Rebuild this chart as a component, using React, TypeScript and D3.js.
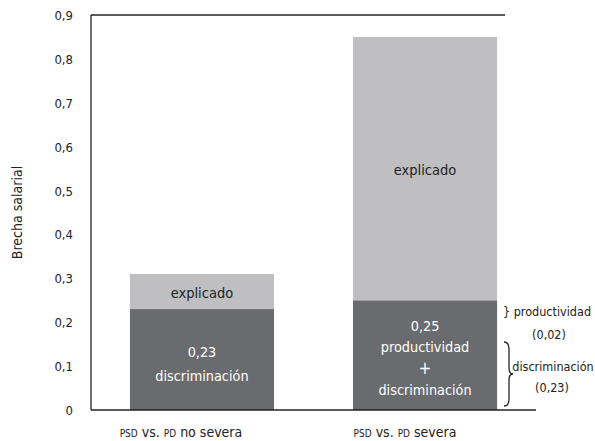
import React from "react";
import * as d3 from "d3";

const categories = ["no severa", "severa"];
const discriminacion = [0.23, 0.25];
const explicado = [0.08, 0.6];
const yTicks = [0, 0.1, 0.2, 0.3, 0.4, 0.5, 0.6, 0.7, 0.8, 0.9];
const innerLabels = [["0,23", "discriminación"], ["0,25", "productividad", "+", "discriminación"]];
const explLabel = "explicado";
const annProd = ["} productividad", "(0,02)"];
const annDisc = ["discriminación", "(0,23)"];

const FONT = "'DejaVu Sans Condensed', 'DejaVu Sans', sans-serif";
const DARK = "#6a6b6f";
const LIGHT = "#bfbfc1";

export default function App() {
  const W = 595, H = 441;
  const left = 91, top = 15, bottom = 410;
  const y = d3.scaleLinear().domain([0, 0.9]).range([bottom, top]);
  const x = d3.scaleBand().domain(categories).range([63, 564]).paddingInner(0.354).paddingOuter(0.3);
  const bw = x.bandwidth();
  const fmt = (v: number) => (v === 0 ? "0" : d3.format(".1f")(v).replace(".", ","));

  return (
    <svg width={W} height={H} style={{ position: "absolute", left: 0, top: 0, fontStretch: "condensed" }} fontFamily={FONT}>
      {categories.map((c, i) => {
        const x0 = x(c)!;
        const d = discriminacion[i];
        const e = explicado[i];
        const cx = x0 + bw / 2;
        const yExplMid = (y(d) + y(d + e)) / 2;
        const lines = innerLabels[i];
        const lh = i === 0 ? 24 : 21.5;
        const yDarkMid = (y(0) + y(d)) / 2 + (i === 0 ? 4 : 3);
        return (
          <g key={c}>
            <rect x={x0} y={y(d)} width={bw} height={y(0) - y(d)} fill={DARK} />
            <rect x={x0} y={y(d + e)} width={bw} height={y(d) - y(d + e)} fill={LIGHT} />
            <text x={cx} y={yExplMid + 6} textAnchor="middle" fontSize={14.5} fill="#222">{explLabel}</text>
            {lines.map((t, j) => (
              <text key={j} x={cx} y={yDarkMid - ((lines.length - 1) * lh) / 2 + j * lh + 5}
                textAnchor="middle" fontSize={t === "+" ? 17 : 14.3} fill="#fff">{t}</text>
            ))}
          </g>
        );
      })}
      <line x1={left} x2={left} y1={top} y2={bottom} stroke="#222" strokeWidth={1.3} />
      <line x1={left} x2={505} y1={top} y2={top} stroke="#222" strokeWidth={1.3} />
      <line x1={left} x2={536} y1={bottom} y2={bottom} stroke="#222" strokeWidth={1.5} />
      {yTicks.map((t) => (
        <text key={t} x={73} y={y(t) + 5} textAnchor="end" fontSize={13} fill="#222">{fmt(t)}</text>
      ))}
      <text transform={`translate(22,${(top + bottom) / 2}) rotate(-90)`} textAnchor="middle" fontSize={14} fill="#222">Brecha salarial</text>
      {categories.map((c, i) => {
        const cx = x(c)! + bw / 2 - (i === 0 ? 21 : 20);
        return (
          <text key={c} x={cx} y={437} textAnchor="middle" fill="#222" fontSize={14}>
            <tspan fontSize={10}>PSD</tspan> vs. <tspan fontSize={10}>PD</tspan> {c}
          </text>
        );
      })}
      <text x={503} y={316} fontSize={12.5} fill="#222">{annProd[0]}</text>
      <text x={549} y={339} fontSize={12.5} textAnchor="middle" fill="#222">{annProd[1]}</text>
      <path d={`M504,342 Q509,342 509,349 L509,368 Q509,374 513,374 Q509,374 509,380 L509,399 Q509,406 504,406`}
        fill="none" stroke="#222" strokeWidth={1.3} />
      <text x={553} y={371} fontSize={12.5} textAnchor="middle" fill="#222">{annDisc[0]}</text>
      <text x={552} y={392} fontSize={12.5} textAnchor="middle" fill="#222">{annDisc[1]}</text>
    </svg>
  );
}
